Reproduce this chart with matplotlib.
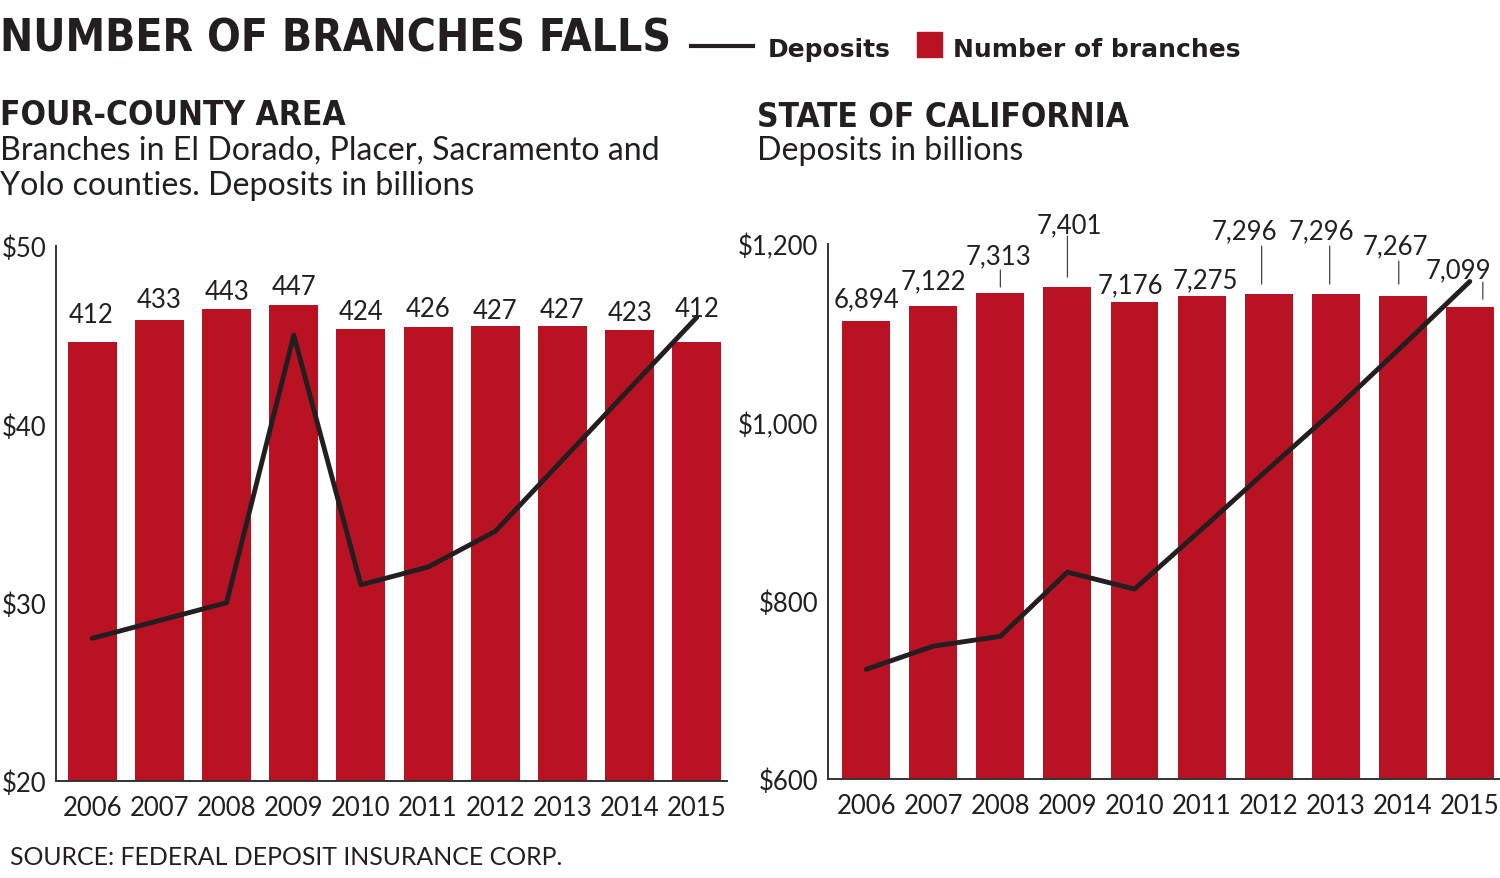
import matplotlib
matplotlib.use('Agg')
import matplotlib.pyplot as plt
from matplotlib.patches import Rectangle
from matplotlib.lines import Line2D
from matplotlib.transforms import offset_copy

# data
years = ['2006', '2007', '2008', '2009', '2010', '2011', '2012', '2013', '2014', '2015']
local_branches = [412, 433, 443, 447, 424, 426, 427, 427, 423, 412]
local_deposits = [28, 29, 30, 45, 31, 32, 34, 38, 42, 46]
state_branches = [6894, 7122, 7313, 7401, 7176, 7275, 7296, 7296, 7267, 7099]
state_deposits = [723, 749, 760, 832, 813, 880, 948, 1015, 1086, 1158]
local_ticks = [20, 30, 40, 50]
state_ticks = [600, 800, 1000, 1200]

# label placement (pixels): horizontal shift, gap above bar top
local_dx = [-1, 0, 0, 0, 0, 0, 0, 0, 0, 0]
local_gap = [20, 13, 10, 11, 10, 11, 8, 9, 10, 26]
state_dx = [0, 0, -2, 2, -4, 4, -24, -14, -7, -11]
state_gap = [15, 17, 30, 55, 10, 8, 56, 56, 43, 30]
# leader lines: bar index -> (x shift, bottom gap, top gap)
state_leaders = {2: (0, 6, 23), 3: (0, 10, 51), 6: (-7, 10, 48),
                 7: (-6, 10, 48), 8: (-4, 12, 35), 9: (13, 8, 25)}

RED = '#b91222'
INK = '#231f20'
HEAD = ['Noto Sans ExtraCondensed', 'Noto Sans Condensed',
        'DejaVu Sans Condensed', 'DejaVu Sans']
NUM_SIZE = 18.5
plt.rcParams['font.family'] = ['Lato', 'DejaVu Sans']

W, H = 1500, 879
fig = plt.figure(figsize=(W / 100, H / 100), dpi=100)
renderer = fig.canvas.get_renderer()


def fx(px):
    return px / W


def fy(py):
    return 1 - py / H


def fit(t, width):
    # scale font so the text spans the width measured on the reference
    for _ in range(2):
        w = t.get_window_extent(renderer).width
        t.set_fontsize(t.get_fontsize() * width / w)
    return t.get_fontsize()


def panel(left, right, bottom, top, xlim, bar_w, branches, bmax, deposits,
          ticks, tick_fmt, dx, gap, leaders):
    rect = [fx(left), fy(bottom), (right - left) / W, (bottom - top) / H]
    axb = fig.add_axes(rect)
    ax = fig.add_axes(rect)
    ax.patch.set_visible(False)

    axb.bar(range(len(branches)), branches, width=bar_w, color=RED)
    axb.set_xlim(*xlim)
    axb.set_ylim(0, bmax)
    axb.axis('off')
    for i, v in enumerate(branches):
        axb.annotate(f'{v:,}', xy=(i, v), xytext=(dx[i], gap[i]),
                     textcoords='offset pixels', ha='center', va='baseline',
                     fontsize=NUM_SIZE, color=INK)
    for i, (lx, y0, y1) in leaders.items():
        v = branches[i]
        axb.annotate('', xy=(i, v),
                     xycoords=offset_copy(axb.transData, fig=fig, x=lx, y=y0, units='dots'),
                     xytext=(i, v),
                     textcoords=offset_copy(axb.transData, fig=fig, x=lx, y=y1, units='dots'),
                     arrowprops=dict(arrowstyle='-', lw=0.9, color='#444444',
                                     shrinkA=0, shrinkB=0))

    ax.plot(range(len(deposits)), deposits, color=INK, lw=3.5,
            solid_capstyle='round', zorder=5)
    ax.set_xlim(*xlim)
    ax.set_ylim(ticks[0], ticks[-1])
    ax.set_yticks(ticks, [tick_fmt(t) for t in ticks])
    ax.set_xticks(range(len(years)), years)
    ax.tick_params(length=0, labelsize=NUM_SIZE, labelcolor=INK)
    ax.tick_params(axis='y', pad=7)
    ax.tick_params(axis='x', pad=10)
    for s in ['top', 'right']:
        ax.spines[s].set_visible(False)
    for s in ['left', 'bottom']:
        ax.spines[s].set_color('#333333')
        ax.spines[s].set_linewidth(1.4)
    return ax


panel(56, 727, 782, 247, (-0.54, 9.45), 0.73, local_branches, 502,
      local_deposits, local_ticks, lambda t: f'${t}', local_dx, local_gap, {})
panel(828, 1500, 780, 245, (-0.57, 9.45), 0.715, state_branches, 8050,
      state_deposits, state_ticks, lambda t: f'${t:,}', state_dx, state_gap,
      state_leaders)

# headline and legend
title = fig.text(fx(0), fy(52), 'NUMBER OF BRANCHES FALLS', family=HEAD,
                 weight='bold', stretch='condensed', fontsize=38, color=INK,
                 va='baseline')
fit(title, 672)
fig.add_artist(Line2D([fx(691), fx(753)], [fy(47), fy(47)], color=INK, lw=3,
                      transform=fig.transFigure))
fig.text(fx(768), fy(57), 'Deposits', family='DejaVu Sans', weight='bold',
         fontsize=18, color=INK, va='baseline')
fig.add_artist(Rectangle((fx(917), fy(58)), 25 / W, 25 / H, color=RED,
                         transform=fig.transFigure))
fig.text(fx(953), fy(57), 'Number of branches', family='DejaVu Sans',
         weight='bold', fontsize=18, color=INK, va='baseline')

# panel headings
sub = fig.text(fx(0), fy(125), 'FOUR-COUNTY AREA', family=HEAD, weight='bold',
               stretch='condensed', fontsize=29, color=INK, va='baseline')
sub_size = fit(sub, 345)
fig.text(fx(757), fy(127), 'STATE OF CALIFORNIA', family=HEAD, weight='bold',
         stretch='condensed', fontsize=sub_size, color=INK, va='baseline')

body = fig.text(fx(0), fy(160), 'Branches in El Dorado, Placer, Sacramento and',
                fontsize=22, color=INK, va='baseline')
body_size = fit(body, 658)
fig.text(fx(0), fy(195), 'Yolo counties. Deposits in billions',
         fontsize=body_size, color=INK, va='baseline')
fig.text(fx(757), fy(160), 'Deposits in billions',
         fontsize=body_size, color=INK, va='baseline')

source = fig.text(fx(10), fy(865), 'SOURCE: FEDERAL DEPOSIT INSURANCE CORP.',
                  fontsize=17, color=INK, va='baseline')
fit(source, 552)

fig.savefig('out.png', dpi=100, facecolor='white')
